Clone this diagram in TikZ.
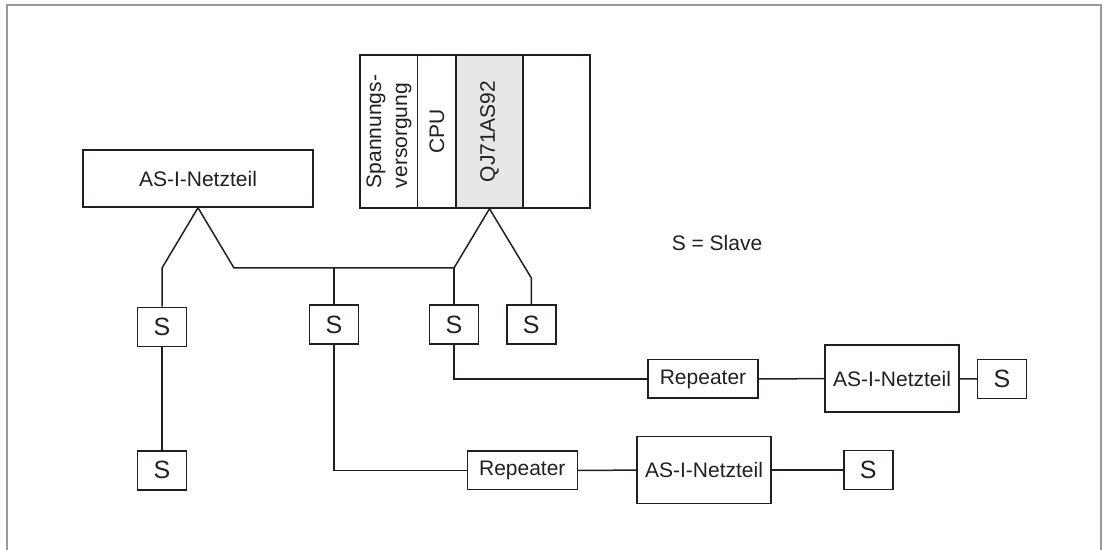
\documentclass[tikz,border=0pt]{standalone}
\usepackage{fontspec}
\setmainfont{Liberation Sans}
\definecolor{ink}{RGB}{35,31,32}
\definecolor{slotgray}{RGB}{230,231,232}
\tikzset{
  box/.style={draw=ink, line width=0.75pt, inner sep=0pt, text=ink,
    font=\fontsize{10.5}{13}\selectfont},
  slave/.style={box, minimum width=24.5pt, minimum height=19.5pt,
    font=\fontsize{12.5}{15}\selectfont},
  slot/.style={box, minimum height=76.5pt},
  wire/.style={draw=ink, line width=0.75pt},
}
\begin{document}
\begin{tikzpicture}[x=0.5pt,y=-0.5pt]
\useasboundingbox (0,0) rectangle (1103,550);

% Rahmen
\draw[gray!80, line width=1pt] (7,550) -- (7,5) -- (1101,5) -- (1101,550);

% AS-I-Netzteil
\node[box, minimum width=115pt, minimum height=28.5pt] (netz) at (198,178.5)
{AS-I-Netzteil};

% SPS
\node[slot, minimum width=28.85pt] (psu) at (388.85,131.5)
{\rotatebox{90}{\begin{tabular}{@{}l@{}}Spannungs-\\versorgung\end{tabular}}};

\node[slot, minimum width=19.15pt] (cpu) at (436.85,131.5)
{\rotatebox{90}{CPU}};

\node[slot, minimum width=33.5pt, fill=slotgray] (qj) at (489.5,131.5)
{\rotatebox{90}{QJ71AS92}};

\node[slot, minimum width=33.5pt] (leer) at (556.5,131.5)
{};

% Legende
\node[text=ink, font=\fontsize{10.5}{13}\selectfont] (leg) at (717,243)
{S = Slave};

% Slaves
\node[slave] (s1) at (162,327) {S};
\node[slave] (s2) at (334,324.5) {S};
\node[slave] (s3) at (454,324.5) {S};
\node[slave] (s4) at (531.3,324.5) {S};
\node[slave] (s5) at (162,470.3) {S};

% Strang oben
\node[box, minimum width=55pt, minimum height=19.25pt] (rep1) at (703,379)
{Repeater};

\node[box, minimum width=67pt, minimum height=33.5pt] (netz2) at (892,378.5)
{AS-I-Netzteil};

\node[slave] (s6) at (1002,379) {S};

% Strang unten
\node[box, minimum width=55pt, minimum height=19.25pt] (rep2) at (522.3,470.3)
{Repeater};

\node[box, minimum width=67pt, minimum height=33.5pt] (netz3) at (704,470.2)
{AS-I-Netzteil};

\node[slave] (s7) at (868.3,470.2) {S};

% Leitungen
\coordinate (kl) at (162,268);
\coordinate (bl) at (234,268);
\coordinate (bm) at (334,268);
\coordinate (br) at (454,268);
\coordinate (qr) at (531.3,278);

\draw[wire] (netz.south) -- (kl) -- (s1.north);
\draw[wire] (netz.south) -- (bl) -- (br) -- (qj.south);
\draw[wire] (qj.south) -- (qr) -- (s4.north);
\draw[wire] (bm) -- (s2.north);
\draw[wire] (br) -- (s3.north);
\draw[wire] (s1) -- (s5);

\draw[wire] (s3.south) |- (rep1.west);
\draw[wire] (rep1) -- (netz2);
\draw[wire] (netz2) -- (s6);

\draw[wire] (s2.south) |- (rep2.west);
\draw[wire] (rep2) -- (netz3);
\draw[wire] (netz3) -- (s7);

\end{tikzpicture}
\end{document}
